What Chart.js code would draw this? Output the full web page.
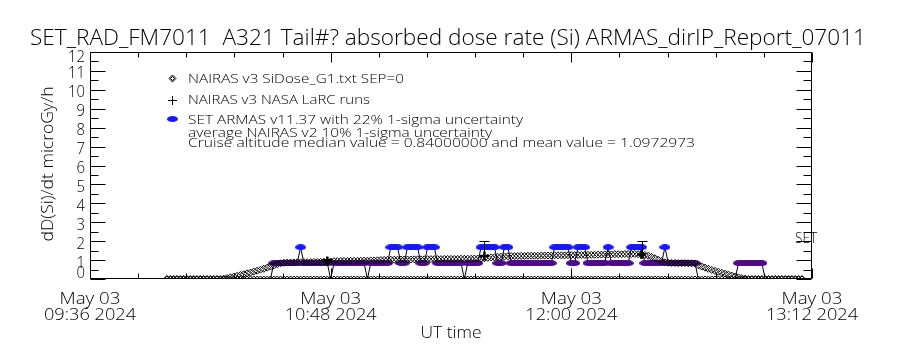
<!DOCTYPE html>
<html>
<head>
<meta charset="utf-8">
<script src="https://cdn.jsdelivr.net/npm/chart.js@4/dist/chart.umd.min.js"></script>
<style>
  html, body { margin: 0; padding: 0; background: #fff; }
  #wrap { width: 900px; height: 350px; }
</style>
</head>
<body>
<div id="wrap"><canvas id="c" width="900" height="350"></canvas></div>
<script>
// ---- time axis: minutes after 09:36 UT, 03 May 2024 ----
const xTickMinutes = [0, 72, 144, 216];
const xTickDays    = ['May 03', 'May 03', 'May 03', 'May 03'];
const xTickTimes   = ['09:36 2024', '10:48 2024', '12:00 2024', '13:12 2024'];
const yTickValues  = [0, 1, 2, 3, 4, 5, 6, 7, 8, 9, 10, 11, 12];

// NAIRAS v3 SiDose_G1 model, one sample per minute starting 09:59 (minute 23)
const nairasStartMin = 23;
const nairasDose = [
  0, 0, 0, 0, 0, 0, 0, 0, 0, 0, 0, 0, 0, 0, 0, 0, 0,
  0.02, 0.05, 0.09, 0.13, 0.17, 0.21, 0.25, 0.30, 0.34, 0.39, 0.44, 0.49, 0.54, 0.60, 0.66, 0.72, 0.78, 0.83,
  0.86, 0.87, 0.87, 0.88, 0.88, 0.88, 0.89, 0.89, 0.89, 0.90, 0.90, 0.90, 0.91, 0.91,
  0.93, 0.94, 0.94, 0.95, 0.95, 0.95, 0.96, 0.96, 0.96, 0.97, 0.97, 0.97, 0.98, 0.98, 0.99,
  1.00, 1.01, 1.01, 1.02, 1.02, 1.02, 1.03, 1.03, 1.03, 1.03, 1.04, 1.04, 1.04, 1.04, 1.05, 1.05,
  1.05, 1.05, 1.05, 1.06, 1.06, 1.06, 1.06, 1.06, 1.07, 1.07, 1.07, 1.07, 1.08, 1.08, 1.08,
  1.10, 1.12, 1.14, 1.15, 1.17, 1.18, 1.19, 1.20, 1.21,
  1.21, 1.22, 1.22, 1.22, 1.23, 1.23, 1.23, 1.23, 1.24, 1.24, 1.24, 1.24, 1.25, 1.25, 1.25, 1.25,
  1.26, 1.26, 1.26, 1.27, 1.27, 1.27, 1.28, 1.28, 1.28,
  1.29, 1.29, 1.30, 1.30, 1.30, 1.31, 1.31, 1.31, 1.32, 1.32, 1.32, 1.32, 1.31, 1.30,
  1.27, 1.23, 1.17, 1.10, 1.02, 0.94,
  0.88, 0.86, 0.85, 0.85, 0.84, 0.84, 0.84, 0.83, 0.83, 0.82,
  0.72, 0.66, 0.60, 0.54, 0.48, 0.43, 0.38, 0.33, 0.28, 0.23, 0.18, 0.13, 0.09, 0.05, 0.02,
  0, 0, 0, 0, 0, 0, 0, 0, 0, 0, 0, 0, 0, 0, 0, 0, 0
];

// average NAIRAS v2 track (no values on this flight), one sample per minute from 09:59
const nairasV2StartMin = 23;
const nairasV2Dose = [
  0, 0, 0, 0, 0, 0, 0, 0, 0, 0, 0, 0, 0, 0, 0, 0, 0, 0, 0, 0, 0, 0, 0, 0, 0, 0, 0, 0, 0, 0, 0, 0,
  0, 0, 0, 0, 0, 0, 0, 0, 0, 0, 0, 0, 0, 0, 0, 0, 0, 0, 0, 0, 0, 0, 0, 0, 0, 0, 0, 0, 0, 0, 0, 0,
  0, 0, 0, 0, 0, 0, 0, 0, 0, 0, 0, 0, 0, 0, 0, 0, 0, 0, 0, 0, 0, 0, 0, 0, 0, 0, 0, 0, 0, 0, 0, 0,
  0, 0, 0, 0, 0, 0, 0, 0, 0, 0, 0, 0, 0, 0, 0, 0, 0, 0, 0, 0, 0, 0, 0, 0, 0, 0, 0, 0, 0, 0, 0, 0,
  0, 0, 0, 0, 0, 0, 0, 0, 0, 0, 0, 0, 0, 0, 0, 0, 0, 0, 0, 0, 0, 0, 0, 0, 0, 0, 0, 0, 0, 0, 0, 0,
  0, 0, 0, 0, 0, 0, 0, 0, 0, 0, 0, 0, 0, 0, 0, 0, 0, 0, 0, 0, 0, 0, 0, 0, 0, 0, 0, 0, 0, 0, 0
];

// SET ARMAS v11.37 dose rate, one sample per minute starting 10:30 (minute 54)
const armasStartMin = 54;
const armasDose = [
  0,
  0.84, 0.84, 0.84, 0.84, 0.84, 0.84, 0.84, 0.84,
  1.68,
  0.84, 0.84, 0.84, 0.84, 0.84, 0.84, 0.84, 0.84,
  0,
  0.84, 0.84, 0.84, 0.84, 0.84, 0.84, 0.84, 0.84, 0.84, 0.84,
  0,
  0.84, 0.84, 0.84, 0.84, 0.84, 0.84,
  1.68, 1.68, 1.68,
  0.84, 0.84,
  1.68, 1.68, 1.68, 1.68,
  0.84, 0.84,
  1.68, 1.68, 1.68,
  0.84, 0.84, 0.84, 0.84, 0.84, 0.84, 0.84, 0.84,
  0,
  0.84, 0.84, 0.84, 0.84,
  1.68, 1.68, 1.68, 1.68, 1.68,
  0.84, 0.84,
  1.68, 1.68,
  0.84, 0.84, 0.84, 0.84, 0.84, 0.84, 0.84, 0.84, 0.84, 0.84, 0.84, 0.84, 0.84,
  1.68, 1.68, 1.68, 1.68, 1.68,
  0.84, 0.84,
  1.68, 1.68, 1.68,
  0.84, 0.84, 0.84, 0.84, 0.84, 0.84,
  1.68,
  0.84, 0.84, 0.84, 0.84, 0.84, 0.84,
  1.68, 1.68, 1.68, 1.68,
  0.84, 0.84, 0.84, 0.84, 0.84, 0.84,
  1.68,
  0.84, 0.84, 0.84, 0.84, 0.84, 0.84, 0.84, 0.84, 0.84,
  0, 0, 0, 0, 0, 0, 0, 0, 0, 0, 0, 0,
  0.84, 0.84, 0.84, 0.84, 0.84, 0.84, 0.84, 0.84,
  0, 0, 0, 0, 0, 0, 0, 0, 0, 0, 0, 0
];

// NAIRAS v3 NASA LaRC runs with upper uncertainty
const larcMinutes = [71, 118, 165];
const larcDose    = [0.95, 1.22, 1.30];
const larcUpper   = [1.05, 2.00, 2.00];

const titleText = 'SET_RAD_FM7011  A321 Tail#? absorbed dose rate (Si) ARMAS_dirIP_Report_07011';
const yTitle = 'dD(Si)/dt microGy/h';
const xTitle = 'UT time';
const legendLines = [
  'NAIRAS v3 SiDose_G1.txt SEP=0',
  'NAIRAS v3 NASA LaRC runs',
  'SET ARMAS v11.37 with 22% 1-sigma uncertainty',
  'average NAIRAS v2 10% 1-sigma uncertainty',
  'Cruise altitude median value = 0.84000000 and mean value = 1.0972973'
];
const rightAxisLabel = 'SET';

// ---- styling ----
const FONT = '"Open Sans", "DejaVu Sans", sans-serif';
const FONT_WEIGHT = '300';
const PURPLE = '#4e0a86';
const BLUE = '#1717ff';

function series(start, values) {
  return values.map((v, i) => ({ x: start + i, y: v }));
}

function blob(color) {
  const c = document.createElement('canvas');
  c.width = 11; c.height = 6;
  const g = c.getContext('2d');
  g.fillStyle = color;
  g.beginPath();
  g.ellipse(5.5, 3, 5.5, 3, 0, 0, Math.PI * 2);
  g.fill();
  return c;
}
const purpleBlob = blob(PURPLE);
const blueBlob = blob(BLUE);

// text fitted to a given width and cap height
function fitText(ctx, str, x, y, width, capH, align, rot) {
  ctx.save();
  const size = 20;
  ctx.font = FONT_WEIGHT + ' ' + size + 'px ' + FONT;
  const w = ctx.measureText(str).width;
  const capMeasured = ctx.measureText('H').actualBoundingBoxAscent || size * 0.71;
  ctx.translate(x, y);
  if (rot) ctx.rotate(rot);
  ctx.scale(width / w, capH / capMeasured);
  ctx.textAlign = align;
  ctx.textBaseline = 'alphabetic';
  ctx.fillStyle = '#000';
  ctx.fillText(str, 0, capMeasured / 2);
  ctx.restore();
}

const idlFrame = {
  id: 'idlFrame',
  beforeDraw(chart) {
    const ctx = chart.ctx;
    ctx.save();
    ctx.fillStyle = '#fff';
    ctx.fillRect(0, 0, chart.width, chart.height);
    ctx.restore();
  },
  afterDatasetsDraw(chart) {
    // upper uncertainty bars on the LaRC runs
    const ctx = chart.ctx, xs = chart.scales.x, ys = chart.scales.y;
    ctx.save();
    ctx.strokeStyle = '#000';
    ctx.lineWidth = 1;
    larcMinutes.forEach((m, i) => {
      const px = Math.round(xs.getPixelForValue(m)) + 0.5;
      const p0 = ys.getPixelForValue(larcDose[i]);
      const p1 = Math.round(ys.getPixelForValue(larcUpper[i])) + 0.5;
      ctx.beginPath();
      ctx.moveTo(px, p0); ctx.lineTo(px, p1);
      ctx.moveTo(px - 5, p1); ctx.lineTo(px + 5, p1);
      ctx.stroke();
    });
    ctx.restore();
  },
  afterDraw(chart) {
    const ctx = chart.ctx, a = chart.chartArea;
    const xs = chart.scales.x, ys = chart.scales.y;
    const L = a.left + 0.5, R = a.right - 0.5, T = a.top + 0.5, B = a.bottom - 0.5;
    ctx.save();
    ctx.strokeStyle = '#000';
    ctx.lineWidth = 1;
    ctx.beginPath();
    ctx.rect(L, T, R - L, B - T);
    // y ticks, both sides: long on whole units, short on halves
    for (let v = 0; v <= 12; v += 0.5) {
      const py = Math.round(ys.getPixelForValue(v)) + 0.5;
      const len = Number.isInteger(v) ? 15 : 8;
      ctx.moveTo(L, py); ctx.lineTo(L + len, py);
      ctx.moveTo(R, py); ctx.lineTo(R - len, py);
    }
    // x ticks, top and bottom: five minor steps per labelled step
    for (let k = 0; k <= 15; k++) {
      const m = k * 14.4;
      const px = Math.round(xs.getPixelForValue(m)) + 0.5;
      const len = k % 5 === 0 ? 10 : 5;
      ctx.moveTo(px, B); ctx.lineTo(px, B - len);
      ctx.moveTo(px, T); ctx.lineTo(px, T + len);
    }
    ctx.stroke();
    ctx.restore();

    // y tick labels
    yTickValues.forEach(v => {
      const s = String(v);
      let py = ys.getPixelForValue(v) + 1;
      py = Math.min(Math.max(py, 55), 271);
      fitText(ctx, s, 85, py, 8.5 * s.length, 13, 'right');
    });
    // x tick labels
    xTickMinutes.forEach((m, i) => {
      const px = xs.getPixelForValue(m);
      fitText(ctx, xTickDays[i], px, 297, 61, 13, 'center');
      fitText(ctx, xTickTimes[i], px, 313, 92, 13, 'center');
    });
    fitText(ctx, xTitle, (a.left + a.right) / 2, 331, 61, 13, 'center');
    fitText(ctx, yTitle, 46, 164, 155, 13, 'center', -Math.PI / 2);
    fitText(ctx, titleText, 448, 37, 836, 16, 'center');
    fitText(ctx, rightAxisLabel, 806, 237, 22, 11, 'center');

    // legend
    const lx = 188;
    const ly = [78, 99, 119, 132, 142];
    const lw = [216, 182, 335, 304, 507];
    legendLines.forEach((t, i) => fitText(ctx, t, lx, ly[i], lw[i], 10, 'left'));
    ctx.save();
    ctx.strokeStyle = '#000';
    ctx.lineWidth = 1;
    // diamond
    ctx.beginPath();
    ctx.moveTo(172.5, 75); ctx.lineTo(176, 78.5); ctx.lineTo(172.5, 82); ctx.lineTo(169, 78.5); ctx.closePath();
    ctx.moveTo(172.5, 76.5); ctx.lineTo(174.5, 78.5); ctx.lineTo(172.5, 80.5); ctx.lineTo(170.5, 78.5); ctx.closePath();
    ctx.stroke();
    // plus
    ctx.beginPath();
    ctx.moveTo(168, 100.5); ctx.lineTo(177, 100.5);
    ctx.moveTo(172.5, 96); ctx.lineTo(172.5, 105);
    ctx.stroke();
    ctx.drawImage(blueBlob, 167, 116);
    ctx.restore();
  }
};

const ctx = document.getElementById('c').getContext('2d');
new Chart(ctx, {
  type: 'scatter',
  data: {
    datasets: [
      {
        label: 'NAIRAS v3 NASA LaRC runs',
        data: larcMinutes.map((m, i) => ({ x: m, y: larcDose[i] })),
        pointStyle: 'cross',
        pointRadius: 4.5,
        borderColor: '#000',
        borderWidth: 2.5,
        showLine: false,
        order: 0,
        clip: 0
      },
      {
        label: 'NAIRAS v3 SiDose_G1.txt SEP=0',
        data: series(nairasStartMin, nairasDose),
        pointStyle: 'rectRot',
        pointRadius: 3.5,
        borderColor: '#000',
        backgroundColor: 'rgba(0,0,0,0)',
        borderWidth: 1,
        showLine: false,
        order: 1,
        clip: 0
      },
      {
        label: 'SET ARMAS v11.37',
        data: series(armasStartMin, armasDose),
        showLine: true,
        borderColor: '#000',
        borderWidth: 1,
        pointStyle: c => (c.raw && c.raw.y > 1.2) ? blueBlob : purpleBlob,
        pointRadius: c => (c.raw && c.raw.y > 0) ? 3 : 0,
        order: 2,
        clip: 0
      },
      {
        label: 'average NAIRAS v2',
        data: series(nairasV2StartMin, nairasV2Dose),
        pointStyle: 'rectRot',
        pointRadius: 3,
        borderColor: '#000',
        backgroundColor: 'rgba(0,0,0,0)',
        borderWidth: 1,
        showLine: false,
        order: 3,
        clip: 0
      }
    ]
  },
  options: {
    responsive: false,
    animation: false,
    devicePixelRatio: 1,
    layout: { padding: { left: 90, right: 88, top: 52, bottom: 71 } },
    plugins: { legend: { display: false }, tooltip: { enabled: false }, title: { display: false } },
    scales: {
      x: { type: 'linear', min: 0, max: 216, display: false },
      y: { type: 'linear', min: 0, max: 12, display: false }
    }
  },
  plugins: [idlFrame]
});
</script>
</body>
</html>
